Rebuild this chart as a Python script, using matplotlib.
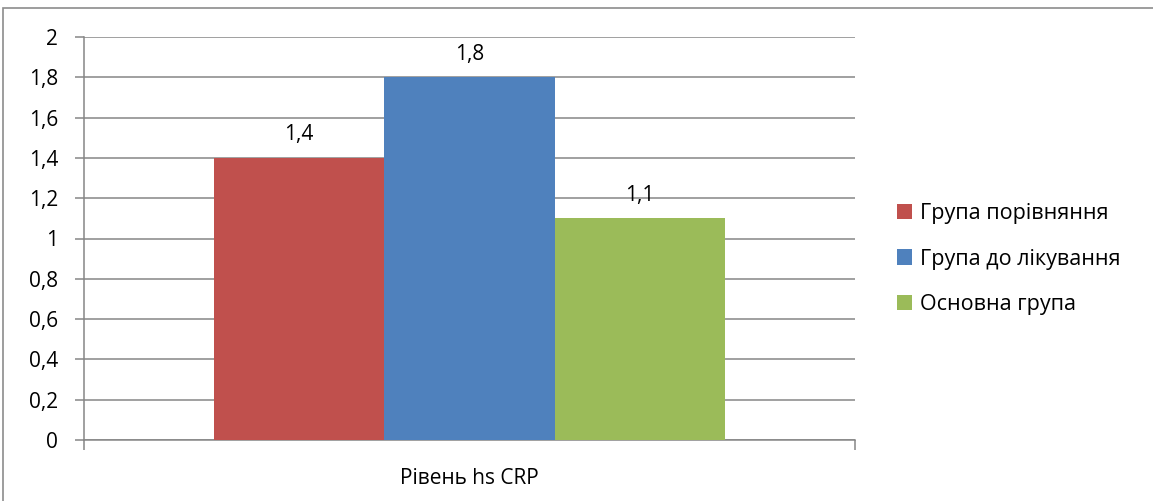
import matplotlib.pyplot as plt
from matplotlib.patches import Patch, Rectangle

# data
category = 'Рівень hs CRP'
groups = ['Група порівняння', 'Група до лікування', 'Основна група']
values = [1.4, 1.8, 1.1]
colors = ['#C0504D', '#4F81BD', '#9BBB59']
yticks = [0, 0.2, 0.4, 0.6, 0.8, 1.0, 1.2, 1.4, 1.6, 1.8, 2.0]

plt.rcParams['font.family'] = ['Open Sans', 'DejaVu Sans']

W, H = 1153, 501
fig = plt.figure(figsize=(W / 100, H / 100), dpi=100)

# outer chart frame (cut off at right and bottom)
fig.patches.append(Rectangle((3 / W, -0.1), 1.2, 1 - 8 / H + 0.1,
                             transform=fig.transFigure, fill=False,
                             edgecolor='#8c8c8c', linewidth=1.2))

ax = fig.add_axes([84 / W, 1 - 440 / H, (855 - 84) / W, (440 - 37) / H])

positions = [-1, 0, 1]
bars = ax.bar(positions, values, width=1.0, color=colors, zorder=3)

for x, v in zip(positions, values):
    ax.annotate(f'{v:g}'.replace('.', ','), (x, v), xytext=(0, 9),
                textcoords='offset points', ha='center', va='bottom', fontsize=15)

ax.set_xlim(-2.26, 2.26)
ax.set_ylim(0, 2)
ax.set_yticks(yticks)
ax.set_yticklabels([f'{t:g}'.replace('.', ',') for t in yticks], fontsize=15)
ax.yaxis.grid(True, color='#868686', linewidth=1.1, zorder=0)
ax.tick_params(axis='y', length=6.5, width=1.1, color='#868686', pad=12)

ax.set_xticks([-2.26, 2.26])
ax.set_xticklabels(['', ''])
ax.set_xticks([0], minor=True)
ax.set_xticklabels([category], minor=True, fontsize=15)
ax.tick_params(axis='x', which='major', length=7, width=1.1, color='#868686')
ax.tick_params(axis='x', which='minor', length=0, pad=20)

for s in ['top', 'right']:
    ax.spines[s].set_visible(False)
for s in ['left', 'bottom']:
    ax.spines[s].set_color('#868686')
    ax.spines[s].set_linewidth(1.1)

handles = [Patch(facecolor=c, edgecolor='none') for c in colors]
fig.legend(handles, groups, loc='center left', bbox_to_anchor=(878 / W, 1 - 259 / H),
           frameon=False, fontsize=15.5, handlelength=0.7, handleheight=0.7,
           handletextpad=0.33, labelspacing=1.15)

fig.savefig('out.png', dpi=100)
